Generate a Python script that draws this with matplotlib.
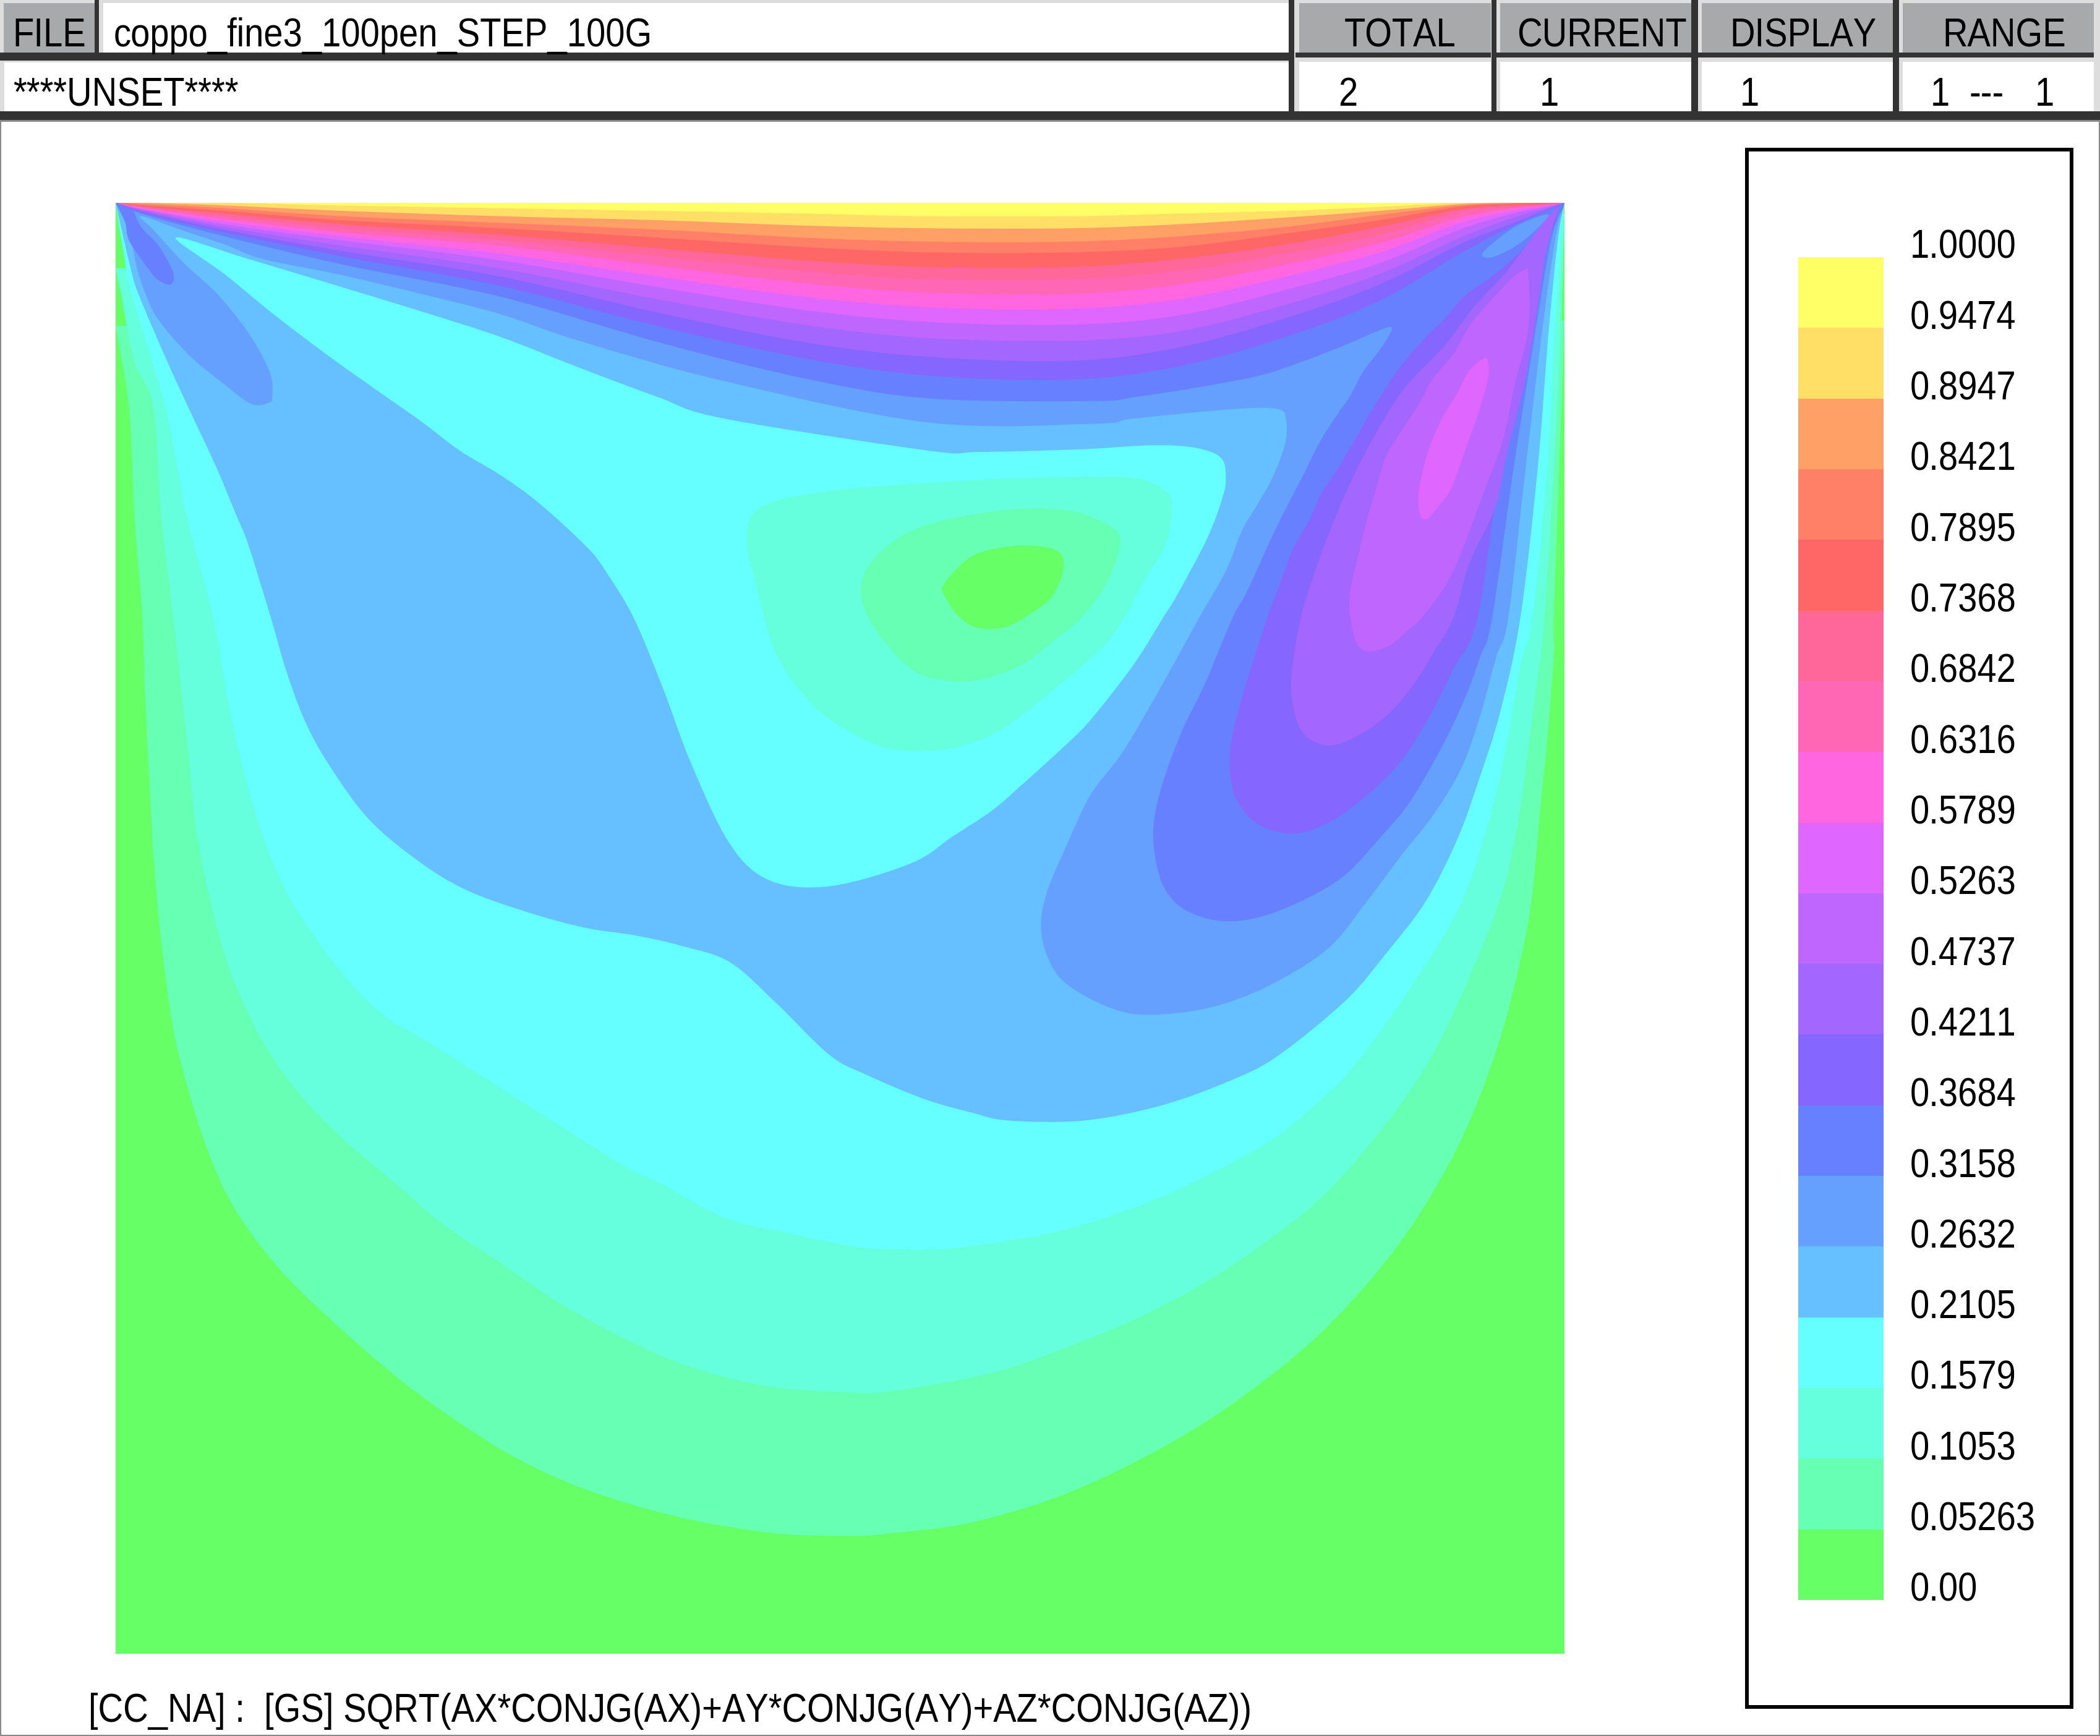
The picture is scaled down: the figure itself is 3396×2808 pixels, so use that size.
import matplotlib
matplotlib.use("Agg")
import matplotlib.pyplot as plt
from matplotlib import font_manager
from matplotlib.font_manager import FontProperties
from matplotlib.patches import PathPatch, Rectangle
from matplotlib.path import Path
from fontTools.ttLib import TTFont

W, H = 3396, 2808

# legend: one colour per band, bottom to top
BAND_COLORS = ["#66FF66", "#66FFB3", "#66FFDD", "#66FFFF", "#66BFFF", "#66A0FF", "#6680FF",
               "#8566FF", "#A366FF", "#BF66FF", "#DF66FF", "#FF66DF", "#FF66B3", "#FF6699",
               "#FF6666", "#FF8066", "#FFA066", "#FFDF66", "#FFFF66"]
LEVEL_LABELS = ["0.00", "0.05263", "0.1053", "0.1579", "0.2105", "0.2632", "0.3158", "0.3684",
                "0.4211", "0.4737", "0.5263", "0.5789", "0.6316", "0.6842", "0.7368", "0.7895",
                "0.8421", "0.8947", "0.9474", "1.0000"]

# contour outlines
TOP_X = [108, 167, 255, 373, 491, 600, 693, 800, 880, 960, 1030, 1090, 1130, 1155]
TOP_Y = {
    18: [152, 152, 154, 156, 158, 160, 162, 162, 160, 158, 155, 152, 152, 152],
    17: [152, 154, 158, 162, 165, 169, 171, 171, 168, 163, 158, 153, 152, 152],
    16: [153, 156, 162, 167, 172, 178, 181, 181, 177, 170, 161, 154, 152, 152],
    15: [154, 158, 165, 171, 178, 185, 189, 189, 185, 175, 165, 155, 153, 152],
    14: [155, 160, 168, 176, 186, 195, 200, 200, 194, 183, 170, 157, 154, 153],
    13: [155, 162, 171, 180, 192, 203, 209, 209, 203, 190, 176, 159, 155, 153],
    12: [156, 164, 174, 184, 199, 212, 219, 220, 213, 198, 182, 163, 156, 154],
    11: [157, 166, 177, 190, 207, 222, 230, 231, 224, 207, 189, 167, 158, 154],
    10: [157, 168, 180, 195, 215, 232, 241, 243, 236, 217, 197, 172, 160, 155],
    9: [158, 170, 184, 201, 224, 243, 253, 255, 248, 228, 205, 178, 163, 156],
    8: [159, 172, 188, 207, 234, 256, 267, 270, 260, 238, 213, 183, 167, 157],
    7: [160, 174, 192, 214, 244, 268, 281, 284, 274, 252, 225, 190, 169, 158],
}

OUT_1 = [(86, 244), (96, 305), (100, 385), (106, 462), (108, 521), (111, 580), (115, 650), (121, 712),
         (127, 756), (133, 787), (150, 846), (171, 896), (200, 938), (231, 971), (281, 1016), (323, 1049),
         (380, 1086), (436, 1112), (507, 1133), (578, 1145), (637, 1147), (665, 1145), (725, 1137), (802, 1113),
         (887, 1070), (958, 1020), (1008, 973), (1053, 917), (1090, 853), (1117, 785), (1135, 718), (1144, 668),
         (1150, 603), (1154, 565), (1160, 491), (1160, 462), (1164, 350), (1168, 240)]
OUT_2 = [(86, 201), (90, 220), (100, 270), (114, 304), (120, 385), (129, 462), (138, 541), (146, 618),
         (157, 674), (171, 724), (186, 759), (200, 785), (224, 818), (256, 851), (295, 884), (330, 914),
         (373, 943), (422, 976), (479, 1006), (525, 1024), (578, 1036), (637, 1040), (665, 1039), (742, 1025),
         (802, 1004), (852, 983), (901, 957), (947, 926), (990, 891), (1035, 839), (1071, 785), (1102, 718),
         (1123, 662), (1135, 603), (1142, 550), (1148, 506), (1153, 462), (1160, 350), (1165, 250), (1168, 160)]
OUT_3 = [(86, 152), (92, 190), (98, 220), (123, 304), (139, 385), (159, 462), (171, 529), (189, 603),
         (213, 665), (248, 718), (283, 756), (319, 778), (363, 806), (407, 834), (466, 871), (493, 884),
         (542, 910), (588, 921), (637, 931), (665, 933), (714, 932), (788, 920), (852, 900), (901, 878),
         (947, 853), (982, 825), (1011, 796), (1055, 735), (1091, 674), (1111, 615), (1123, 565), (1135, 497),
         (1144, 462), (1155, 350), (1161, 240), (1166, 170), (1168, 152)]
OUT_4 = [(86, 152), (90, 170), (97, 200), (103, 220), (123, 267), (139, 302), (161, 349), (176, 385),
         (185, 407), (202, 462), (213, 500), (227, 538), (245, 571), (275, 612), (313, 644), (348, 665),
         (392, 681), (436, 693), (475, 699), (510, 707), (545, 719), (580, 750), (619, 788), (647, 803),
         (690, 821), (725, 831), (753, 837), (809, 837), (866, 826), (919, 807), (955, 788), (1005, 747),
         (1035, 712), (1064, 674), (1088, 627), (1105, 580), (1120, 532), (1135, 462), (1148, 350),
         (1156, 250), (1163, 180), (1168, 152)]
HOLE_3 = [(131, 178), (182, 193), (255, 215), (314, 233), (373, 252), (432, 275), (491, 297), (540, 313),
          (693, 337), (730, 338), (807, 336), (860, 333), (893, 335), (912, 343), (915, 360), (912, 374),
          (906, 391), (898, 409), (878, 446), (868, 462), (846, 497), (814, 538), (793, 559), (761, 588),
          (740, 606), (711, 625), (680, 645), (620, 662), (575, 658), (545, 631), (516, 571), (495, 515),
          (473, 462), (452, 427), (438, 409), (402, 376), (373, 355), (343, 337), (314, 315), (284, 294),
          (246, 267), (205, 236), (167, 205)]
INNER_2 = [(693, 361), (754, 358), (841, 357), (870, 367), (875, 380), (870, 407), (853, 436), (839, 462),
           (823, 484), (787, 515), (746, 546), (711, 559), (680, 561), (650, 555), (610, 530), (580, 490),
           (565, 440), (557, 400), (570, 378), (620, 367)]
INNER_1 = [(693, 392), (754, 381), (800, 382), (831, 395), (836, 409), (825, 438), (807, 462), (790, 476),
           (764, 496), (735, 507), (711, 509), (680, 500), (650, 465), (643, 435), (660, 410)]
INNER_0 = [(705, 436), (727, 415), (760, 408), (787, 411), (794, 423), (785, 446), (764, 462), (749, 469),
           (729, 469), (715, 460), (705, 445)]
OUT_5 = [(86, 152), (96, 174), (102, 201), (108, 219), (117, 238), (140, 265), (164, 285), (187, 302),
         (201, 301), (203, 296), (202, 281), (192, 260), (180, 242), (161, 219), (137, 197), (114, 172),
         (105, 162), (137, 173), (167, 183), (196, 194), (255, 206), (314, 220), (373, 235), (432, 255),
         (540, 285), (693, 316), (816, 317), (847, 313), (921, 306), (954, 306), (960, 314), (960, 329),
         (955, 345), (948, 361), (937, 380), (927, 397), (915, 427), (895, 462), (864, 518), (838, 562),
         (814, 594), (796, 632), (782, 665), (777, 691), (782, 715), (796, 735), (829, 753), (858, 758),
         (902, 753), (946, 737), (991, 709), (1020, 674), (1047, 638), (1070, 609), (1091, 574), (1105, 535),
         (1117, 491), (1126, 462), (1139, 350), (1151, 250), (1161, 180), (1168, 152)]
OUT_6 = [(86, 152), (108, 161), (167, 177), (255, 198), (373, 222), (491, 256), (600, 283), (693, 298),
         (816, 300), (847, 297), (893, 290), (940, 281), (971, 271), (1002, 259), (1033, 246), (1039, 246),
         (1034, 256), (1026, 267), (1017, 279), (1008, 296), (997, 312), (985, 331), (971, 359), (958, 384),
         (946, 409), (931, 442), (920, 462), (899, 512), (882, 547), (867, 588), (861, 618), (863, 644),
         (870, 665), (885, 680), (911, 688), (941, 685), (976, 671), (1005, 653), (1032, 624), (1052, 600),
         (1076, 559), (1094, 521), (1105, 491), (1114, 462), (1130, 350), (1146, 250), (1158, 180), (1168, 152)]
LOBE_6 = [(86, 152), (93, 166), (96, 180), (108, 198), (117, 209), (127, 213), (129, 204), (118, 184),
          (105, 170), (99, 157)]
WEDGE_5 = [(1107, 192), (1110, 186), (1131, 170), (1153, 161), (1155, 164), (1135, 182), (1116, 192)]
LOBE_7 = [(1168, 152), (1161, 164), (1119, 203), (1094, 221), (1079, 238), (1063, 254), (1045, 275),
          (1033, 293), (1020, 314), (1008, 335), (997, 353), (986, 370), (977, 390), (965, 411), (955, 438),
          (946, 462), (929, 515), (920, 550), (918, 574), (923, 597), (938, 615), (964, 623), (991, 615),
          (1017, 597), (1044, 571), (1064, 541), (1085, 500), (1103, 462), (1120, 350), (1139, 260), (1155, 180)]
LOBE_8 = [(1168, 152), (1156, 162), (1125, 203), (1100, 230), (1079, 258), (1048, 291), (1025, 328),
          (1008, 361), (992, 399), (980, 432), (971, 462), (964, 506), (967, 535), (976, 551), (994, 557),
          (1017, 548), (1038, 532), (1055, 512), (1070, 488), (1085, 462), (1097, 421), (1116, 380), (1125, 339),
          (1138, 287), (1147, 236), (1153, 195), (1159, 170), (1164, 155)]
LOBE_9 = [(1138, 202), (1128, 209), (1113, 225), (1097, 244), (1085, 265), (1070, 283), (1057, 306),
          (1045, 324), (1034, 343), (1026, 370), (1020, 390), (1014, 415), (1008, 442), (1008, 462),
          (1013, 481), (1022, 487), (1038, 482), (1050, 472), (1061, 462), (1079, 438), (1091, 413), (1107, 370),
          (1122, 329), (1131, 287), (1141, 246), (1141, 205)]
LOBE_10 = [(1108, 268), (1097, 277), (1088, 294), (1076, 314), (1067, 335), (1062, 353), (1059, 370),
           (1060, 384), (1065, 388), (1076, 376), (1084, 364), (1093, 339), (1104, 308), (1111, 283), (1111, 271)]

# painter's order: (band, outline, closed curve or open edge-to-edge curve)
SHAPES = [(1, OUT_1, False), (2, OUT_2, False), (3, OUT_3, False), (4, OUT_4, False), (3, HOLE_3, True),
          (2, INNER_2, True), (1, INNER_1, True), (0, INNER_0, True), (5, OUT_5, False), (6, OUT_6, False),
          (6, LOBE_6, False), (5, WEDGE_5, True), (7, LOBE_7, False), (8, LOBE_8, False), (9, LOBE_9, True),
          (10, LOBE_10, True)]


def narrow_font(fname="cond.ttf", k=0.86):
    # the reference text is a squeezed Helvetica, no narrow face is installed
    tt = TTFont(font_manager.findfont("Liberation Sans"))
    glyf, hmtx = tt["glyf"], tt["hmtx"]
    for name in glyf.keys():
        g = glyf[name]
        g.removeHinting()
        if g.isComposite():
            for c in g.components:
                c.x = round(c.x * k)
        elif g.numberOfContours > 0:
            for i, (x, y) in enumerate(g.coordinates):
                g.coordinates[i] = (round(x * k), y)
        adv, lsb = hmtx[name]
        hmtx[name] = (round(adv * k), round(lsb * k))
    for tag in ["fpgm", "prep", "cvt ", "kern", "GPOS", "hdmx", "VDMX", "LTSH"]:
        if tag in tt:
            del tt[tag]
    tt.save(fname)
    return FontProperties(fname=fname, size=47)


def smooth_path(points, closed):
    # catmull-rom through the read points, source contours are not polygons
    n = len(points)
    verts, codes = [points[0]], [Path.MOVETO]
    last = n if closed else n - 1
    for i in range(last):
        if closed:
            p0, p1, p2, p3 = points[i - 1], points[i], points[(i + 1) % n], points[(i + 2) % n]
        else:
            p0, p1, p2, p3 = points[max(i - 1, 0)], points[i], points[i + 1], points[min(i + 2, n - 1)]
        c1 = (p1[0] + (p2[0] - p0[0]) / 6, p1[1] + (p2[1] - p0[1]) / 6)
        c2 = (p2[0] - (p3[0] - p1[0]) / 6, p2[1] - (p3[1] - p1[1]) / 6)
        verts += [c1, c2, p2]
        codes += [Path.CURVE4] * 3
    verts.append(points[0])
    codes.append(Path.CLOSEPOLY)
    return Path(verts, codes)


fig = plt.figure(figsize=(W / 100, H / 100), dpi=100, facecolor="white")
font = narrow_font()


def px_axes(left, top, right, bottom):
    return fig.add_axes([left / W, 1 - bottom / H, (right - left) / W, (bottom - top) / H])


# window chrome, in image pixels
bg = px_axes(0, 0, W, H)
bg.set_xlim(0, W)
bg.set_ylim(H, 0)
bg.axis("off")


def box(x0, y0, x1, y1, color):
    bg.add_patch(Rectangle((x0, y0), x1 - x0, y1 - y0, facecolor=color, edgecolor="none"))


def label(x, y, s):
    bg.text(x, y, s, fontproperties=font, va="baseline", ha="left", color="black")


DARK, LIGHT, GREY = "#333333", "#DDDDDD", "#A8A9AB"
box(0, 0, W, 194, LIGHT)
box(0, 180, W, 194, DARK)
box(0, 194, W, 197, "#888888")
box(0, 197, 2, H, "#888888")
box(W - 2, 197, W, H, "#888888")
box(0, H - 2, W, H, "#888888")

# left part of the two rows
box(6, 5, 153, 85, GREY)
box(153, 0, 160, 90, DARK)
box(167, 5, 2084, 85, "white")
box(0, 85, 2084, 98, DARK)
box(7, 101, 2084, 180, "white")
box(2084, 0, 2093, 194, DARK)

# right hand cells: separator, bevel, cell
SEP_X = [None, 2412, 2735, 3061]
for sep, (x0, x1) in zip(SEP_X, [(2101, 2411), (2426, 2735), (2752, 3061), (3077, 3386)]):
    if sep:
        box(sep, 0, x0 - 6, 194, DARK)
    box(x0, 5, x1, 85, GREY)
    box(x0 - 6, 85, x1, 93, DARK)
    box(x0, 100, x1, 180, "white")

label(20, 75, "FILE")
label(184, 75, "coppo_fine3_100pen_STEP_100G")
label(21, 171, "****UNSET****")
label(2174, 75, "TOTAL")
label(2453, 75, "CURRENT")
label(2797, 75, "DISPLAY")
label(3141, 75, "RANGE")
label(2164, 171, "2")
label(2490, 171, "1")
label(2814, 171, "1")
label(3122, 171, "1")
label(3185, 171, "---")
label(3291, 171, "1")
label(143, 2785, "[CC_NA] :  [GS] SQRT(AX*CONJG(AX)+AY*CONJG(AY)+AZ*CONJG(AZ))")

# contour plate
ax = px_axes(187, 328, 2530, 2675)
ax.set_xlim(86, 1168)
ax.set_ylim(1235, 152)
ax.axis("off")
ax.add_patch(Rectangle((86, 152), 1082, 1083, facecolor=BAND_COLORS[0], edgecolor="none"))
for band, outline, closed in SHAPES:
    ax.add_patch(PathPatch(smooth_path(outline, closed), facecolor=BAND_COLORS[band], edgecolor="none", lw=0))
for band in sorted(TOP_Y):
    outline = [(86, 152)] + list(zip(TOP_X, TOP_Y[band])) + [(1168, 152)]
    ax.add_patch(PathPatch(smooth_path(outline, False), facecolor=BAND_COLORS[band], edgecolor="none", lw=0))

# legend box
bg.add_patch(Rectangle((2825, 242), 525, 2519, facecolor="none", edgecolor="black", lw=4.3))
leg = px_axes(2908, 416, 3046, 2588)
leg.set_xlim(0, 1)
leg.set_ylim(0, len(BAND_COLORS))
leg.axis("off")
leg.bar([0.5] * len(BAND_COLORS), [1] * len(BAND_COLORS), width=1, bottom=range(len(BAND_COLORS)),
        color=BAND_COLORS, lw=0)
for i, s in enumerate(LEVEL_LABELS):
    leg.annotate(s, xy=(1, i), xytext=(43 * 0.72, -1.4), textcoords="offset points", va="baseline",
                 ha="left", fontproperties=font, annotation_clip=False)

fig.savefig("out.png", dpi=100)
